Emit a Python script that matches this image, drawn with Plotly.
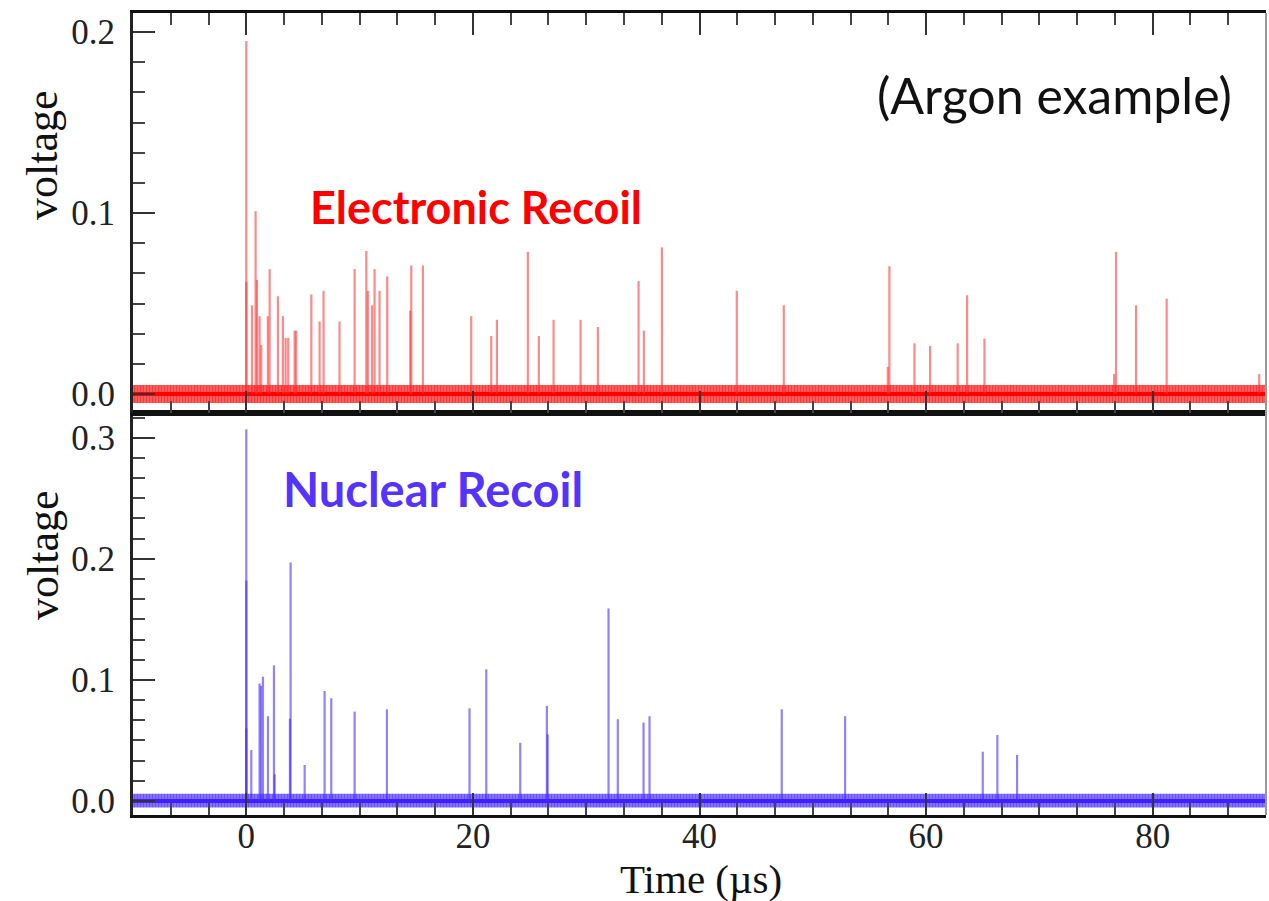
import plotly.graph_objects as go

# ---------------- data ----------------
time_range = [-10, 90]

# Electronic recoil pulses: time (µs) and peak voltage
er_times = [0.0, 0.0, 0.5, 0.82, 0.94, 1.17, 1.32, 1.9, 2.06, 2.79, 3.23, 3.47, 3.7,
            4.26, 4.4, 5.74, 6.47, 6.82, 8.23, 9.56, 10.59, 10.73, 11.1, 11.32, 11.76,
            12.44, 14.47, 14.56, 15.59, 19.85, 21.62, 22.12, 24.85, 25.82, 27.12, 29.5,
            31.03, 34.62, 35.09, 36.68, 43.29, 47.44, 56.62, 56.76, 58.97, 60.35, 62.79,
            63.62, 65.15, 76.6, 76.76, 78.53, 81.23, 89.4]
er_volts = [0.195, 0.062, 0.049, 0.101, 0.063, 0.043, 0.027, 0.043, 0.069, 0.054, 0.043,
            0.031, 0.031, 0.035, 0.035, 0.055, 0.040, 0.057, 0.040, 0.069, 0.079, 0.057,
            0.049, 0.069, 0.057, 0.065, 0.046, 0.071, 0.071, 0.043, 0.032, 0.041, 0.0785,
            0.032, 0.041, 0.041, 0.037, 0.0624, 0.035, 0.081, 0.057, 0.049, 0.015, 0.0706,
            0.028, 0.0266, 0.028, 0.0545, 0.0306, 0.011, 0.0785, 0.049, 0.0527, 0.011]

# Nuclear recoil pulses
nr_times = [0.0, 0.0, 0.0, 0.44, 1.17, 1.3, 1.47, 1.91, 2.44, 2.5, 3.85, 3.91, 5.15,
            6.91, 7.5, 9.56, 12.41, 19.7, 21.18, 24.18, 26.53, 26.6, 31.97, 32.79, 35.06,
            35.59, 47.26, 52.85, 65.0, 66.29, 68.03]
nr_volts = [0.307, 0.182, 0.06, 0.042, 0.097, 0.095, 0.1026, 0.070, 0.112, 0.022, 0.068,
            0.197, 0.0297, 0.0908, 0.0848, 0.0738, 0.0757, 0.0765, 0.1087, 0.048, 0.0785,
            0.055, 0.159, 0.0675, 0.0647, 0.070, 0.0757, 0.070, 0.0407, 0.0545, 0.038]

# baseline noise envelope (voltage)
er_noise = [-0.005, 0.005]
nr_noise = [-0.0055, 0.006]

er_yrange = [-0.0105, 0.2105]
nr_yrange = [-0.0116, 0.3204]

# ---------------- styling ----------------
RED = "#ff0000"
BLUE = "#3f1fff"
SERIF = "Liberation Serif, Times New Roman, serif"

def spike_xy(ts, vs):
    xs, ys = [], []
    for t, v in zip(ts, vs):
        xs += [t, t, None]
        ys += [0.0, v, None]
    return xs, ys

fig = go.Figure()

def add_panel(ts, vs, noise, color, band_rgba, spike_rgba, xa, ya):
    fig.add_trace(go.Scatter(x=time_range, y=[noise[0], noise[0]], mode="lines",
                             line=dict(width=0, color=color), xaxis=xa, yaxis=ya,
                             showlegend=False, hoverinfo="skip"))
    fig.add_trace(go.Scatter(x=time_range, y=[noise[1], noise[1]], mode="lines",
                             line=dict(width=0, color=color), fill="tonexty",
                             fillcolor=band_rgba,
                             fillpattern=dict(shape="|", size=3, solidity=0.6,
                                              fgcolor=color, bgcolor=band_rgba,
                                              fillmode="overlay"),
                             xaxis=xa, yaxis=ya, showlegend=False, hoverinfo="skip"))
    fig.add_trace(go.Scatter(x=time_range, y=[0, 0], mode="lines",
                             line=dict(width=4, color=color), xaxis=xa, yaxis=ya,
                             showlegend=False, hoverinfo="skip"))
    sx, sy = spike_xy(ts, vs)
    fig.add_trace(go.Scatter(x=sx, y=sy, mode="lines",
                             line=dict(width=2.2, color=spike_rgba),
                             xaxis=xa, yaxis=ya, showlegend=False))

add_panel(er_times, er_volts, er_noise, RED, "rgba(255,0,0,0.55)",
          "rgba(255,40,40,0.55)", "x2", "y2")
add_panel(nr_times, nr_volts, nr_noise, BLUE, "rgba(63,31,255,0.55)",
          "rgba(70,45,255,0.6)", "x", "y")

# ---------------- layout ----------------
L, R, T, B = 133, 3, 13, 86
W, H = 1269, 901
pw, ph = W - L - R, H - T - B
split = (815 - 413) / ph  # bottom panel height fraction

def px2paper(px, py):
    return (px - L) / pw, (H - B - py) / ph

tickfont = dict(family=SERIF, size=35, color="#222")
minor_y = dict(dtick=0.1 / 6, ticklen=12, tickwidth=2, tickcolor="#444", ticks="inside")
minor_x = dict(dtick=20 / 6, ticklen=12, tickwidth=2, tickcolor="#444", ticks="inside")

common_x = dict(range=time_range, dtick=20, tick0=0, ticks="inside", ticklen=22,
                tickwidth=2, tickcolor="#333", showgrid=False, zeroline=False,
                showline=True, linecolor="#111", linewidth=3, minor=minor_x)
common_y = dict(dtick=0.1, tick0=0, ticks="inside", ticklen=22, tickwidth=2,
                tickcolor="#333", showgrid=False, zeroline=False, showline=True,
                linecolor="#222", linewidth=3, tickformat=".1f", tickfont=tickfont,
                ticklabelstandoff=8, minor=minor_y)

fig.update_layout(
    width=W, height=H,
    margin=dict(l=L, r=R, t=T, b=B, autoexpand=False),
    paper_bgcolor="white", plot_bgcolor="white",
    showlegend=False,
    xaxis=dict(**common_x, anchor="y", domain=[0, 1], mirror=True,
               tickfont=tickfont, ticklabelstandoff=-12),
    yaxis=dict(**common_y, range=nr_yrange, domain=[0, split], anchor="x"),
    xaxis2=dict(**common_x, anchor="y2", matches="x", mirror="ticks",
                showticklabels=False),
    yaxis2=dict(**common_y, range=er_yrange, domain=[split, 1], anchor="x2"),
)

# right frame edge (thin gray)
fig.add_shape(type="line", xref="paper", yref="paper", x0=1, x1=1, y0=0, y1=1,
              line=dict(color="#999", width=2))

# x-axis title
xp, yp = px2paper(701, 879)
fig.add_annotation(text="Time (µs)", xref="paper", yref="paper", x=xp, y=yp,
                   showarrow=False, xanchor="center", yanchor="middle",
                   font=dict(family=SERIF, size=41, color="#111"))

# y-axis titles
for py in (155, 555):
    xp, yp = px2paper(43, py)
    fig.add_annotation(text="voltage", xref="paper", yref="paper", x=xp, y=yp,
                       textangle=-90, showarrow=False, xanchor="center", yanchor="middle",
                       font=dict(family=SERIF, size=44, color="#111"))

xp, yp = px2paper(1054, 95)
fig.add_annotation(text="(Argon example)", xref="paper", yref="paper", x=xp, y=yp,
                   showarrow=False, xanchor="center", yanchor="middle",
                   font=dict(family="Lato", size=50, color="#111"))

xp, yp = px2paper(308, 207)
fig.add_annotation(text="Electronic Recoil", xref="paper", yref="paper", x=xp, y=yp,
                   showarrow=False, xanchor="left", yanchor="middle",
                   font=dict(family="Lato", size=45, color=RED, weight="bold"))

xp, yp = px2paper(281, 489)
fig.add_annotation(text="Nuclear Recoil", xref="paper", yref="paper", x=xp, y=yp,
                   showarrow=False, xanchor="left", yanchor="middle",
                   font=dict(family="Lato", size=47, color="#5533ff", weight="bold"))

fig.write_html("out.html", config={"displayModeBar": False},
               post_script="document.body.style.margin='0';")
